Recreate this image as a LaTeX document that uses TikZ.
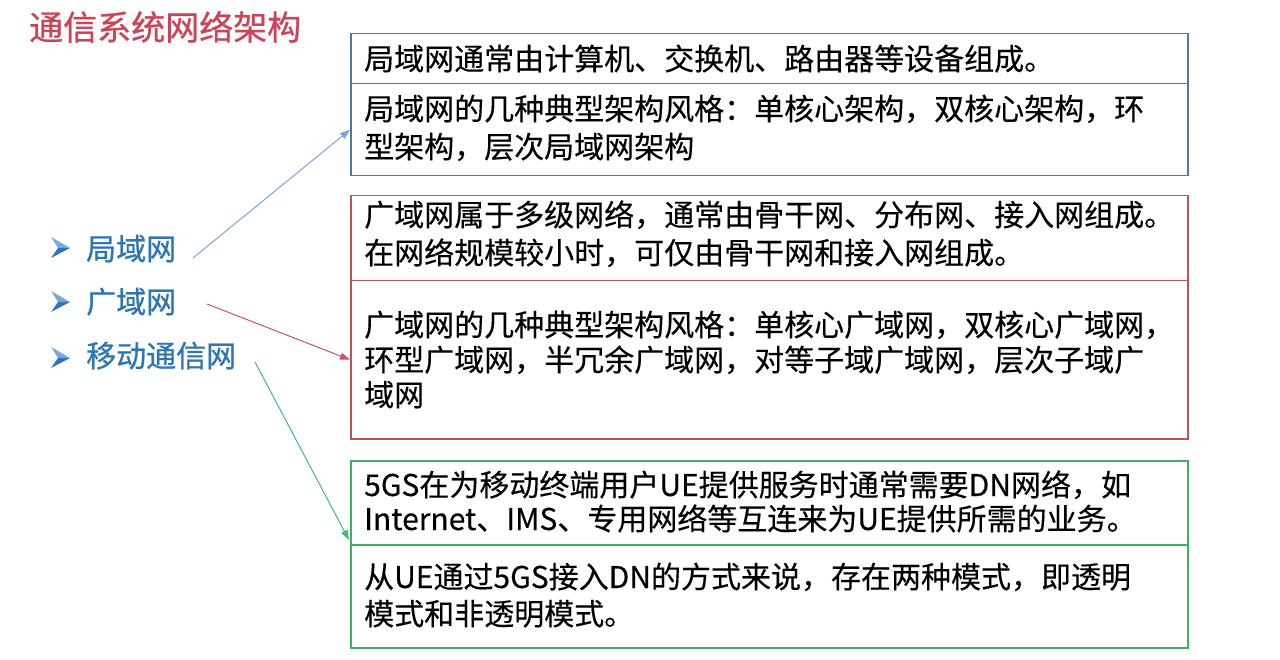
\documentclass[tikz,border=0pt]{standalone}
\usepackage{fontspec}
\setmainfont{Noto Sans CJK SC}
\usetikzlibrary{arrows.meta}
\definecolor{titlered}{RGB}{204,68,88}
\definecolor{itemblue}{RGB}{46,117,182}
\definecolor{itemlight}{RGB}{120,170,215}
\definecolor{boxblue}{RGB}{80,120,160}
\definecolor{boxred}{RGB}{192,80,90}
\definecolor{boxgreen}{RGB}{60,176,100}
\definecolor{arrowblue}{RGB}{120,165,215}
\definecolor{arrowred}{RGB}{200,85,95}
\definecolor{arrowgreen}{RGB}{70,185,120}
\tikzset{
  sect/.style={draw, line width=1.5pt, minimum width=837pt, anchor=north west, inner sep=0pt},
  bodytext/.style={anchor=base west, inner sep=0pt, font=\fontsize{30}{38}\selectfont\addfontfeature{FakeBold=0.3}, text=black},
  itemtext/.style={anchor=base west, inner sep=0pt, font=\fontsize{30}{38}\selectfont\addfontfeature{FakeBold=0.8}, text=itemblue},
  conn/.style={line width=1pt, -{Triangle[length=10pt,width=7pt]}},
  bulletmark/.pic={
    \fill[itemlight] (0,-11) -- (19,0) -- (7,0) -- cycle;
    \fill[itemblue] (7,0) -- (19,0) -- (0,10) -- cycle;
  }
}
\begin{document}
\begin{tikzpicture}[x=1pt,y=-1pt]
\useasboundingbox (0,0) rectangle (1280,660);
% title
\node[anchor=base west, inner sep=0pt, font=\fontsize{34}{40}\selectfont\addfontfeature{FakeBold=0.8}, text=titlered] (title) at (29,40) {通信系统网络架构};
% left list
\pic at (51,248) {bulletmark};
\node[itemtext] (lan) at (86,260) {局域网};
\pic at (51,302) {bulletmark};
\node[itemtext] (wan) at (86,313) {广域网};
\pic at (51,358) {bulletmark};
\node[itemtext] (mob) at (86,367) {移动通信网};
% blue box
\node[sect, draw=boxblue, minimum height=50pt] (B1) at (350,33) {};
\node[sect, draw=boxblue, minimum height=92pt] (B2) at (350,83) {};
\node[bodytext] (b1) at (364,70) {局域网通常由计算机、交换机、路由器等设备组成。};
\node[bodytext] (b2) at (364,120) {局域网的几种典型架构风格：单核心架构，双核心架构，环};
\node[bodytext] (b3) at (364,158) {型架构，层次局域网架构};
% red box
\node[sect, draw=boxred, minimum height=85pt] (R1) at (350,195) {};
\node[sect, draw=boxred, minimum height=158pt] (R2) at (350,280) {};
\node[bodytext] (r1) at (364,226) {广域网属于多级网络，通常由骨干网、分布网、接入网组成。};
\node[bodytext] (r2) at (364,264) {在网络规模较小时，可仅由骨干网和接入网组成。};
\node[bodytext] (r3) at (364,336) {广域网的几种典型架构风格：单核心广域网，双核心广域网，};
\node[bodytext] (r4) at (364,371) {环型广域网，半冗余广域网，对等子域广域网，层次子域广};
\node[bodytext] (r5) at (364,406) {域网};
% green box
\node[sect, draw=boxgreen, minimum height=84pt] (G1) at (350,460) {};
\node[sect, draw=boxgreen, minimum height=103pt] (G2) at (350,544) {};
\node[bodytext] (g1) at (364,496) {5GS在为移动终端用户UE提供服务时通常需要DN网络，如};
\node[bodytext] (g2) at (364,530) {Internet、IMS、专用网络等互连来为UE提供所需的业务。};
\node[bodytext] (g3) at (364,588) {从UE通过5GS接入DN的方式来说，存在两种模式，即透明};
\node[bodytext] (g4) at (364,625) {模式和非透明模式。};
% connectors
\coordinate (s1) at (193,258);
\coordinate (s2) at (207,304);
\coordinate (s3) at (255,362);
\coordinate (t3) at (349,540);
\draw[conn, arrowblue] (s1) -- (B2.west);
\draw[conn, arrowred] (s2) -- (R2.west);
\draw[conn, arrowgreen] (s3) -- (t3);
\end{tikzpicture}
\end{document}
